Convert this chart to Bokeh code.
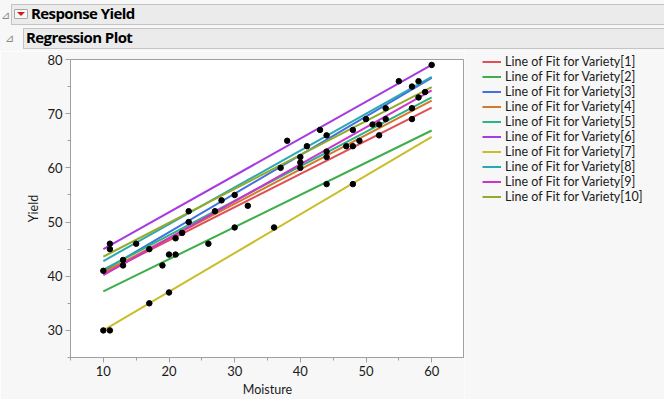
from bokeh.plotting import figure
from bokeh.models import Legend, LegendItem, Div, FixedTicker, ColumnDataSource
from bokeh.layouts import column, row
from bokeh.embed import file_html
from bokeh.resources import INLINE

# ---- data ----
moisture = [10, 11, 11, 13, 13, 15, 17, 19, 20, 21, 21, 22, 23, 23, 26, 27, 28, 30,
            32, 30, 36, 10, 11, 17, 20, 37, 38, 40, 40, 40, 41, 43, 44, 44, 44, 44,
            47, 48, 48, 48, 49, 50, 51, 52, 52, 53, 53, 55, 57, 57, 57, 58, 58, 59, 60]
yield_vals = [41, 46, 45, 43, 42, 46, 45, 42, 44, 44, 47, 48, 50, 52, 46, 52, 54, 55,
              53, 49, 49, 30, 30, 35, 37, 60, 65, 60, 61, 62, 64, 67, 66, 63, 62, 57,
              64, 64, 67, 57, 65, 69, 68, 68, 66, 71, 69, 76, 75, 71, 69, 76, 73, 74, 79]

varieties = ["Variety[1]", "Variety[2]", "Variety[3]", "Variety[4]", "Variety[5]",
             "Variety[6]", "Variety[7]", "Variety[8]", "Variety[9]", "Variety[10]"]
fit_at_min = [40.5, 37.2, 41.0, 40.7, 41.2, 45.0, 30.0, 42.8, 40.2, 43.6]
fit_at_max = [71.1, 66.9, 76.6, 72.4, 73.0, 79.0, 65.7, 76.8, 74.3, 74.9]
colors = ["#de4f57", "#3cae4a", "#4170e0", "#d5782c", "#2ab487",
          "#a63be0", "#c8be2a", "#2ba8b2", "#cc35cc", "#93ab2b"]

x_ticks = [10, 20, 30, 40, 50, 60]
x_minor = [5, 15, 25, 35, 45, 55, 65]
y_ticks = [30, 40, 50, 60, 70, 80]
y_minor = [25, 35, 45, 55, 65, 75]

FONT = "Lato"
HFONT = "Open Sans"
BG = "#f7f7f7"
W = 664
PH = 348


def header(title, height, tri_x, tri_y, box_x, box_y, text_x, with_button):
    btn = ""
    if with_button:
        btn = ('<div style="position:absolute;left:14px;top:%dpx;width:14px;height:10px;'
               'border:1px solid #a8a8a8;background:#f6f6f6;box-sizing:border-box;border-radius:1px;">'
               '<div style="position:absolute;left:2px;top:2px;width:0;height:0;'
               'border-left:4px solid transparent;border-right:4px solid transparent;'
               'border-top:4px solid #d01c1c;"></div></div>') % (box_y + 5)
    return ('<div style="position:relative;width:%dpx;height:%dpx;font-family:\'%s\',sans-serif;background:%s;overflow:hidden;">'
            '<span style="position:absolute;left:%dpx;top:%dpx;font-size:11px;color:#8a8a8a;line-height:11px;">&#8895;</span>'
            '<div style="position:absolute;left:%dpx;top:%dpx;width:%dpx;height:21px;background:#ebebeb;'
            'border:1px solid #c4c4c4;box-sizing:border-box;"></div>%s'
            '<span style="position:absolute;left:%dpx;top:%dpx;font-size:15px;font-weight:bold;color:#000;'
            'line-height:21px;letter-spacing:-0.6px;white-space:nowrap;">%s</span></div>') % (
        W, height, HFONT, BG, tri_x, tri_y, box_x, box_y, W - box_x + 4, btn, text_x, box_y - 1, title)


div1 = Div(text=header("Response Yield", 27, 1, 9, 11, 4, 31, True), width=W, height=27, margin=0)
div2 = Div(text=header("Regression Plot", 24, 5, 5, 23, 1, 26, False), width=W, height=24, margin=0)

# ---- main plot ----
p = figure(width=464, height=PH, x_range=(5, 65), y_range=(25, 80),
           output_backend="svg", toolbar_location=None,
           min_border_left=70, min_border_right=0, min_border_top=8, min_border_bottom=40)
p.background_fill_color = "white"
p.border_fill_color = BG
p.outline_line_color = "#a0a0a0"
p.xgrid.visible = False
p.ygrid.visible = False

for ax in (p.xaxis[0], p.yaxis[0]):
    ax.axis_line_color = "#a0a0a0"
    ax.major_tick_line_color = "#a0a0a0"
    ax.minor_tick_line_color = "#a0a0a0"
    ax.major_tick_out = 5
    ax.major_tick_in = 0
    ax.minor_tick_out = 3
    ax.minor_tick_in = 0
    ax.major_label_text_font = FONT
    ax.major_label_text_font_size = "13px"
    ax.major_label_text_color = "#1a1a1a"
    ax.axis_label_text_font = FONT
    ax.axis_label_text_font_size = "12.5px"
    ax.axis_label_text_font_style = "normal"
    ax.axis_label_text_color = "#1a1a1a"
    ax.major_label_standoff = 3
    ax.axis_label_standoff = 3

p.xaxis.ticker = FixedTicker(ticks=x_ticks, minor_ticks=x_minor)
p.yaxis.ticker = FixedTicker(ticks=y_ticks, minor_ticks=y_minor)
p.xaxis.axis_label = "Moisture"
p.yaxis.axis_label = "Yield"

x_lo, x_hi = min(moisture), max(moisture)
for y0, y1, c in zip(fit_at_min, fit_at_max, colors):
    p.line([x_lo, x_hi], [y0, y1], line_color=c, line_width=2)

src = ColumnDataSource(dict(x=moisture, y=yield_vals))
p.scatter("x", "y", source=src, size=5.5, fill_color="black", line_color="black", marker="circle")

# ---- legend panel (same series, keyed) ----
lp = figure(width=W - 464, height=PH, x_range=(0, 1), y_range=(0, 1),
            x_axis_type=None, y_axis_type=None, output_backend="svg", toolbar_location=None,
            min_border_left=0, min_border_right=0, min_border_top=0, min_border_bottom=0)
lp.frame_align = False
lp.background_fill_color = BG
lp.border_fill_color = BG
lp.outline_line_color = None
lp.xgrid.visible = False
lp.ygrid.visible = False

items = []
for name, y0, y1, c in zip(varieties, fit_at_min, fit_at_max, colors):
    # key glyph only: the segment lies outside this panel's ranges
    r = lp.line([x_lo, x_hi], [y0, y1], line_color=c, line_width=2)
    items.append(LegendItem(label="Line of Fit for " + name, renderers=[r]))

legend = Legend(items=items, location=(18, 195), orientation="vertical",
                label_text_font=FONT, label_text_font_size="12.5px", label_text_color="#1a1a1a",
                label_text_line_height=1.0,
                glyph_width=19, glyph_height=15, label_height=15, spacing=0, padding=0, margin=0,
                label_standoff=4, border_line_color=None, background_fill_alpha=0)
lp.add_layout(legend, "center")

layout = column(div1, div2, row(p, lp, spacing=0), spacing=0)
open("out.html", "w").write(file_html(layout, INLINE))
